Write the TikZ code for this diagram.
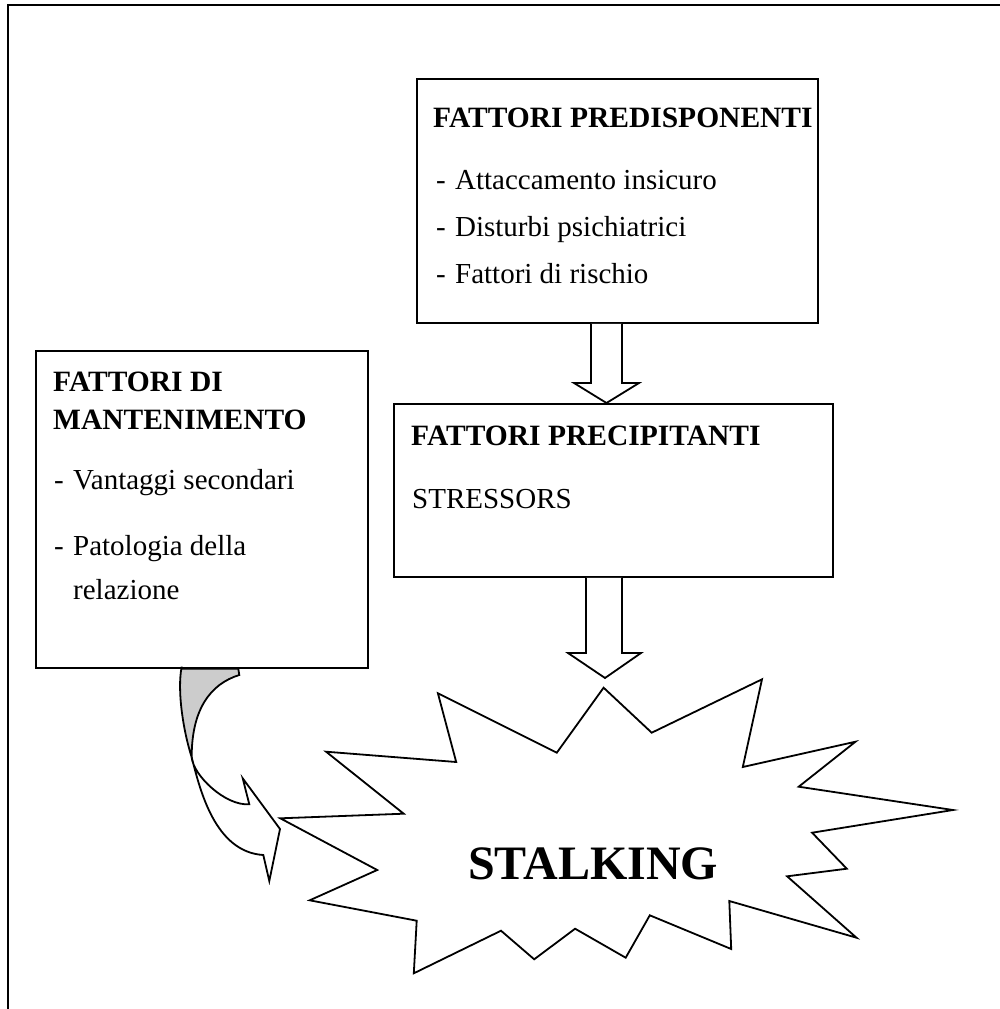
\documentclass[tikz,border=0pt]{standalone}
\usepackage{fontspec}
\setmainfont{Liberation Serif}
\newcommand{\dashitem}{-\hspace{9.3pt}}
\begin{document}
\begin{tikzpicture}[x=1pt,y=-1pt,
  box/.style={draw, line width=1.8pt, rectangle, inner sep=0pt, anchor=north west},
  txt/.style={anchor=base west, inner sep=0pt, font=\fontsize{29}{33}\selectfont},
  hdr/.style={anchor=base west, inner sep=0pt, font=\fontsize{29.5}{33}\selectfont\bfseries},
  big/.style={anchor=base west, inner sep=0pt, font=\fontsize{48}{52}\selectfont\bfseries},
  shp/.style={draw, line width=1.8pt, line join=miter, fill=white},
  back/.style={draw, line width=1.8pt, line join=miter, fill=black!20},
  frameline/.style={line width=2pt}]
\useasboundingbox (0,0) rectangle (1000,1009);
% frame
\coordinate (fa) at (1000,5);
\coordinate (fb) at (8,5);
\coordinate (fc) at (8,1009);
\draw[frameline] (fa) -- (fb) -- (fc);

% boxes
\node[box, minimum width=401pt, minimum height=244pt] (b1) at (416,78) {};
\node[box, minimum width=439pt, minimum height=173pt] (b2) at (393,403) {};
\node[box, minimum width=332pt, minimum height=317pt] (b3) at (35,350) {};

% box 1 text
\node[hdr] (t11) at (433,127) {FATTORI PREDISPONENTI};
\node[txt] (t12) at (436,189) {\dashitem Attaccamento insicuro};
\node[txt] (t13) at (436,236) {\dashitem Disturbi psichiatrici};
\node[txt] (t14) at (436,283) {\dashitem Fattori di rischio};

% box 2 text
\node[hdr] (t21) at (411,445) {FATTORI PRECIPITANTI};
\node[txt] (t22) at (412,508) {STRESSORS};

% box 3 text
\node[hdr] (t31) at (53,391) {FATTORI DI};
\node[hdr] (t32) at (53,429) {MANTENIMENTO};
\node[txt] (t33) at (54,489) {\dashitem Vantaggi secondari};
\node[txt] (t34) at (54,555) {\dashitem Patologia della};
\node[txt] (t35) at (54,599) {\phantom{\dashitem}relazione};

% block arrow b1 -> b2
\draw[shp] (591,0 |- b1.south) -- (591,383) -- (574,383) -- (606.5,0 |- b2.north)
  -- (639,383) -- (622,383) -- (622,0 |- b1.south);

% star
\draw[shp] (603.6,687.7) -- (651.7,732.7) -- (762.0,679.3) -- (742.8,767)
  -- (855.5,741.7) -- (798.7,786.7) -- (953,810) -- (812.1,832.7)
  -- (846.8,868.7) -- (787.1,876.3) -- (856.5,937.7) -- (729.3,901)
  -- (731.2,949) -- (649.8,915.3) -- (625.7,957.7) -- (575.1,928.7)
  -- (534.2,959.3) -- (501.0,930.7) -- (413.8,973.3) -- (416.7,920.7)
  -- (309.7,900.3) -- (377.2,870) -- (280.3,818.3) -- (403.7,813.7)
  -- (326.1,751.7) -- (456.2,762) -- (437.9,693.3) -- (556.8,752.7) -- cycle;
\node[big] (st) at (468,879) {STALKING};

% block arrow b2 -> star
\coordinate (startip) at (605,678);
\draw[shp] (586,0 |- b2.south) -- (586,653) -- (568,653) -- (startip)
  -- (641,653) -- (622,653) -- (622,0 |- b2.south);

% curved arrow from b3 towards the star
\draw[back] (181.7,0 |- b3.south) -- (238.3,0 |- b3.south) -- (239.3,675)
  .. controls (210,684) and (191.5,710) .. (191.7,757.3)
  .. controls (183,730) and (177,690) .. (181.7,666.7) -- cycle;
\draw[shp] (191.7,757.3) .. controls (193,775) and (225,806) .. (249.3,804.3)
  -- (242.7,778.3) -- (280,829) -- (269.3,881) -- (263.3,855)
  .. controls (215,852) and (200,790) .. (191.7,757.3) -- cycle;
\end{tikzpicture}
\end{document}
